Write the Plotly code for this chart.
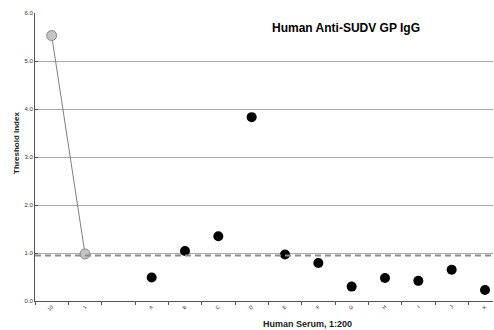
import plotly.graph_objects as go

# Data
control_labels = ["10", "1"]
control_values = [5.53, 0.98]
sample_labels = ["A", "B", "C", "D", "E", "F", "G", "H", "I", "J", "K"]
sample_values = [0.49, 1.04, 1.35, 3.83, 0.97, 0.79, 0.30, 0.48, 0.42, 0.65, 0.23]
categories = control_labels + [" "] + sample_labels
threshold = 0.95
y_ticks = [0, 1, 2, 3, 4, 5, 6]
y_tick_text = ["0.0", "1.0", "2.0", "3.0", "4.0", "5.0", "6.0"]

fig = go.Figure()

fig.add_trace(go.Scatter(
    x=control_labels, y=control_values, mode="lines+markers",
    line=dict(color="#7f7f7f", width=1),
    marker=dict(size=10, color="#c4c4c4", line=dict(color="#8a8a8a", width=1)),
    showlegend=False,
))
fig.add_trace(go.Scatter(
    x=sample_labels, y=sample_values, mode="markers",
    marker=dict(size=10, color="black"),
    showlegend=False,
))

fig.add_shape(type="line", xref="paper", x0=0, x1=1, yref="y", y0=threshold, y1=threshold,
              line=dict(color="#8c8c8c", width=2, dash="6px,4px"))

fig.add_annotation(text="<b>Human Anti-SUDV GP IgG</b>", xref="paper", yref="paper",
                   x=0.68, y=0.948, showarrow=False, xanchor="center", yanchor="middle",
                   font=dict(family="Liberation Sans, Arial", size=12, color="black"))
fig.add_annotation(text="<b>Human Serum, 1:200</b>", xref="paper", yref="paper",
                   x=0.596, y=-0.08, showarrow=False, xanchor="center", yanchor="middle",
                   font=dict(family="Liberation Sans, Arial", size=9, color="#222"))
fig.add_annotation(text="<b>Threshold Index</b>", xref="paper", yref="paper",
                   x=-0.0393, y=0.549, showarrow=False, textangle=-90, xanchor="center",
                   yanchor="middle",
                   font=dict(family="Liberation Sans, Arial", size=8, color="#222"))

fig.update_layout(
    width=494, height=330,
    margin=dict(l=35, r=1, t=13, b=29),
    paper_bgcolor="white", plot_bgcolor="white",
    font=dict(family="Liberation Sans, Arial", color="black"),
    xaxis=dict(
        type="category", categoryorder="array", categoryarray=categories,
        range=[-0.5, 13.24], tickson="boundaries", ticks="outside", ticklen=3,
        tickcolor="#555", tickangle=-45, tickfont=dict(size=5, color="#222"),
        showline=True, linecolor="#555", linewidth=1, showgrid=False,
        automargin=False,
    ),
    yaxis=dict(
        range=[0, 6], tickvals=y_ticks, ticktext=y_tick_text,
        tickfont=dict(size=6, color="#333"), ticks="inside", ticklen=3, tickcolor="#555",
        showline=True, linecolor="#555", linewidth=1,
        showgrid=True, gridcolor="#a8a8a8", gridwidth=1, zeroline=False,
        automargin=False,
    ),
)

fig.write_html("out.html", config={"displayModeBar": False},
               post_script="document.body.style.margin='0';document.body.style.overflow='hidden';")
